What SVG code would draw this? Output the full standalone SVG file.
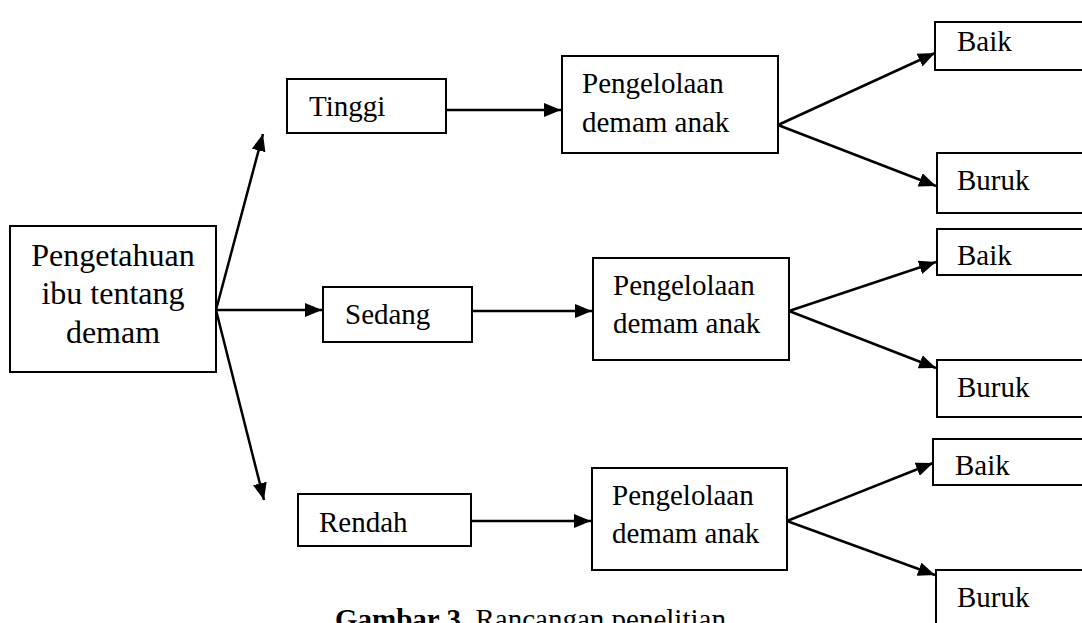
<svg xmlns="http://www.w3.org/2000/svg" width="1082" height="623" viewBox="0 0 1082 623">
<style>
.box{fill:#fff;stroke:#000;stroke-width:2}
.t{font-family:"Liberation Serif","Times New Roman",serif;font-size:29px;fill:#000}
.big{font-size:32px}
.c{stroke:#000;stroke-width:2.5;fill:none}
</style>
<defs>
<marker id="ah" markerUnits="userSpaceOnUse" markerWidth="18" markerHeight="14" refX="17" refY="7" orient="auto">
<path d="M0,0 L17,7 L0,14 z" fill="#000"/>
</marker>
</defs>
<rect width="1082" height="623" fill="#fff"/>
<g id="connectors">
<line class="c" x1="216" y1="310" x2="263" y2="134" marker-end="url(#ah)"/>
<line class="c" x1="216" y1="310" x2="322" y2="310" marker-end="url(#ah)"/>
<line class="c" x1="216" y1="310" x2="264" y2="500" marker-end="url(#ah)"/>
<line class="c" x1="446" y1="110" x2="561" y2="110" marker-end="url(#ah)"/>
<line class="c" x1="472" y1="311" x2="592" y2="311" marker-end="url(#ah)"/>
<line class="c" x1="471" y1="521" x2="591" y2="521" marker-end="url(#ah)"/>
<line class="c" x1="778" y1="125" x2="935" y2="53" marker-end="url(#ah)"/>
<line class="c" x1="778" y1="125" x2="936" y2="186" marker-end="url(#ah)"/>
<line class="c" x1="789" y1="311" x2="936" y2="262" marker-end="url(#ah)"/>
<line class="c" x1="789" y1="311" x2="936" y2="368" marker-end="url(#ah)"/>
<line class="c" x1="787" y1="521" x2="933" y2="463" marker-end="url(#ah)"/>
<line class="c" x1="787" y1="521" x2="935" y2="575" marker-end="url(#ah)"/>
</g>
<g id="pengetahuan">
<rect class="box" x="10" y="226" width="206" height="146"/>
<text class="t big" x="113" y="266" text-anchor="middle">Pengetahuan</text>
<text class="t big" x="113" y="304" text-anchor="middle">ibu tentang</text>
<text class="t big" x="113" y="343" text-anchor="middle">demam</text>
</g>
<g id="tinggi">
<rect class="box" x="287" y="79" width="159" height="54"/>
<text class="t" x="309" y="116">Tinggi</text>
</g>
<g id="sedang">
<rect class="box" x="323" y="287" width="149" height="55"/>
<text class="t" x="345" y="324">Sedang</text>
</g>
<g id="rendah">
<rect class="box" x="298" y="494" width="173" height="52"/>
<text class="t" x="319" y="532">Rendah</text>
</g>
<g id="pengelolaan1">
<rect class="box" x="562" y="56" width="216" height="97"/>
<text class="t" x="582" y="93">Pengelolaan</text>
<text class="t" x="582" y="132">demam anak</text>
</g>
<g id="pengelolaan2">
<rect class="box" x="593" y="258" width="196" height="102"/>
<text class="t" x="613" y="295">Pengelolaan</text>
<text class="t" x="613" y="333">demam anak</text>
</g>
<g id="pengelolaan3">
<rect class="box" x="592" y="468" width="195" height="102"/>
<text class="t" x="612" y="505">Pengelolaan</text>
<text class="t" x="612" y="543">demam anak</text>
</g>
<g id="baik1">
<rect class="box" x="935" y="22" width="160" height="48"/>
<text class="t" x="957" y="51">Baik</text>
</g>
<g id="buruk1">
<rect class="box" x="937" y="153" width="160" height="60"/>
<text class="t" x="957" y="190">Buruk</text>
</g>
<g id="baik2">
<rect class="box" x="937" y="229" width="160" height="46"/>
<text class="t" x="957" y="265">Baik</text>
</g>
<g id="buruk2">
<rect class="box" x="937" y="360" width="160" height="57"/>
<text class="t" x="957" y="397">Buruk</text>
</g>
<g id="baik3">
<rect class="box" x="933" y="439" width="160" height="46"/>
<text class="t" x="955" y="475">Baik</text>
</g>
<g id="buruk3">
<rect class="box" x="936" y="570" width="160" height="70"/>
<text class="t" x="957" y="607">Buruk</text>
</g>
<text class="t" x="335" y="629"><tspan font-weight="bold">Gambar 3.</tspan> Rancangan penelitian</text>
</svg>
